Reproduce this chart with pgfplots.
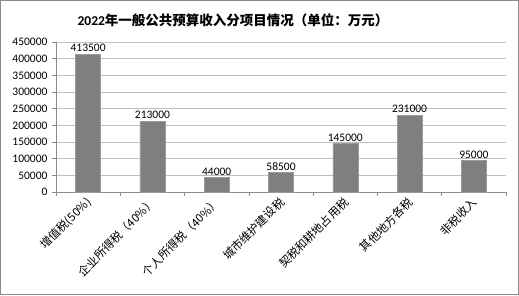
\documentclass[border=0pt]{standalone}
\usepackage{pgfplots}
\pgfplotsset{compat=1.18}
\usepackage{fontspec}
\setmainfont{Carlito}
\newfontfamily\cjk{Noto Sans CJK SC}
\definecolor{barfill}{HTML}{7F7F7F}
\definecolor{baredge}{HTML}{9A9A9A}
\definecolor{gridc}{HTML}{BFBFBF}
\definecolor{axisc}{HTML}{8C8C8C}
\definecolor{framec}{HTML}{8A8A8A}
\begin{document}
\begin{tikzpicture}
\useasboundingbox (0pt,0pt) rectangle (519pt,295pt);
\draw[color=framec, line width=1pt] (0.5pt,0.5pt) rectangle (518.5pt,294.5pt);
\node[font=\fontsize{13.5}{13.5}\selectfont\bfseries] at (233pt,275pt) {2022{\cjk\bfseries 年一般公共预算收入分项目情况（单位：万元）}};
\begin{axis}[
  at={(56pt,103pt)}, anchor=origin,
  width=450pt, height=150pt, scale only axis,
  xmin=0, xmax=7, ymin=0, ymax=450000,
  ytick={0,50000,...,450000},
  xtick={0,1,...,7},
  x tick label as interval,
  xticklabels={增值税(50\%),企业所得税（40\%）,个人所得税（40\%）,城市维护建设税,契税和耕地占用税,其他地方各税,非税收入},
  ymajorgrids, grid style={color=gridc, line width=0.7pt},
  axis x line*=bottom, axis y line*=left,
  axis line style={color=axisc, line width=0.7pt},
  tick style={color=axisc, line width=0.7pt},
  tick align=outside, major tick length=4pt,
  scaled y ticks=false,
  /pgf/number format/assume math mode=true,
  yticklabel style={/pgf/number format/fixed, /pgf/number format/1000 sep={}, font=\fontsize{11.5}{11.5}\selectfont, xshift=-1pt},
  x tick label style={rotate=45, anchor=east, font=\cjk\fontsize{11.5}{11.5}\selectfont, yshift=-4pt, xshift=1pt},
  ybar, bar width=25pt,
  nodes near coords,
  nodes near coords style={font=\fontsize{11.5}{11.5}\selectfont, /pgf/number format/fixed, /pgf/number format/1000 sep={}, anchor=south, inner sep=2pt},
]
\addplot[fill=barfill, draw=baredge, line width=0.5pt] coordinates {(0.5,413500) (1.5,213000) (2.5,44000) (3.5,58500) (4.5,145000) (5.5,231000) (6.5,95000)};
\end{axis}
\end{tikzpicture}
\end{document}
